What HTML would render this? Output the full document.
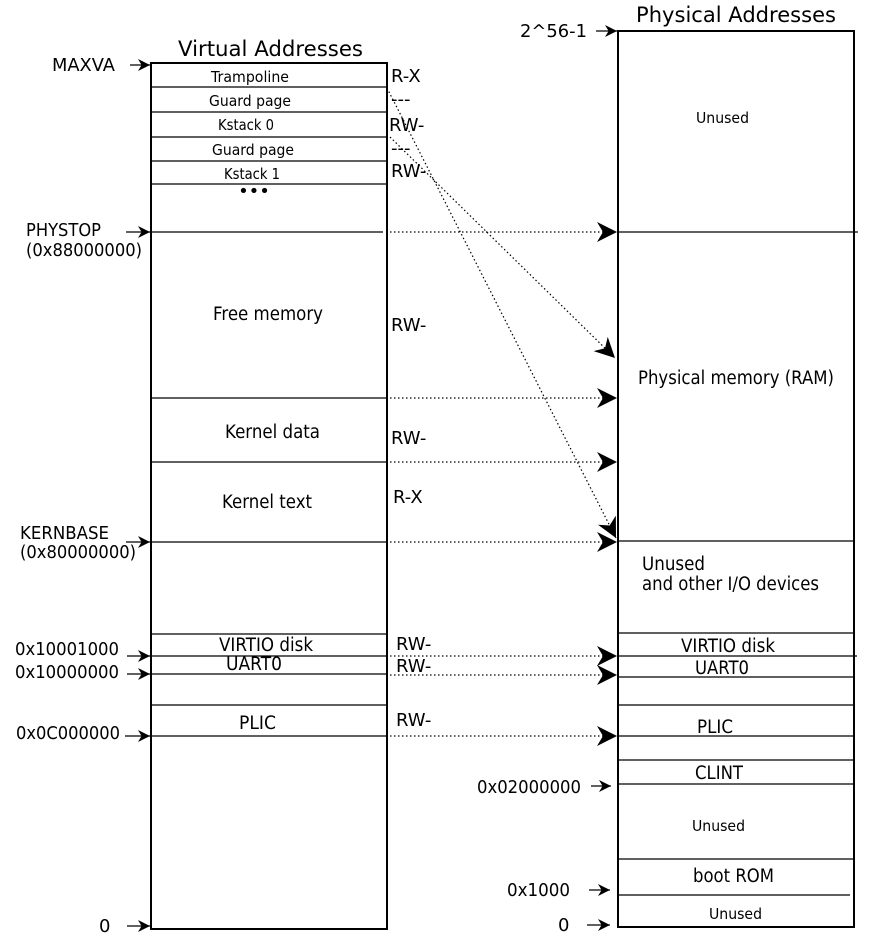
<!DOCTYPE html>
<html><head><meta charset="utf-8"><style>
html,body{margin:0;padding:0;background:#fff;width:881px;height:939px;overflow:hidden}
text{font-family:"DejaVu Sans","Liberation Sans",sans-serif;fill:#000}
.s{font-size:15.5px}.m{font-size:18px}.l{font-size:18.5px}.t{font-size:21px}
</style></head><body>
<svg width="881" height="939" viewBox="0 0 881 939" xmlns="http://www.w3.org/2000/svg">
<defs>
<marker id="a" viewBox="0 0 10 10" refX="10" refY="5" markerWidth="12" markerHeight="12" markerUnits="userSpaceOnUse" orient="auto"><path d="M0,0 L10,5 L0,10 L3,5z" fill="#000"/></marker>
<marker id="b" viewBox="0 0 10 10" refX="10" refY="5" markerWidth="20" markerHeight="20" markerUnits="userSpaceOnUse" orient="auto"><path d="M0,0 L10,5 L0,10 L3,5z" fill="#000"/></marker>
</defs>
<g stroke="#000" fill="none">
<rect x="151" y="63" width="236" height="866" stroke-width="2"/>
<rect x="618" y="31" width="236" height="896" stroke-width="2"/>
<g stroke-width="1.3">
<line x1="151" y1="87" x2="387" y2="87"/><line x1="151" y1="112" x2="387" y2="112"/>
<line x1="151" y1="137" x2="387" y2="137"/><line x1="151" y1="161" x2="387" y2="161"/>
<line x1="151" y1="184" x2="387" y2="184"/><line x1="151" y1="232" x2="383" y2="232"/>
<line x1="151" y1="398" x2="387" y2="398"/><line x1="151" y1="462" x2="387" y2="462"/>
<line x1="151" y1="542" x2="387" y2="542"/><line x1="151" y1="634" x2="387" y2="634"/>
<line x1="151" y1="656" x2="387" y2="656"/><line x1="151" y1="674" x2="387" y2="674"/>
<line x1="151" y1="705" x2="387" y2="705"/><line x1="151" y1="736" x2="387" y2="736"/>
<line x1="618" y1="232" x2="858" y2="232"/><line x1="618" y1="541" x2="854" y2="541"/>
<line x1="618" y1="633" x2="854" y2="633"/><line x1="618" y1="656" x2="857" y2="656"/>
<line x1="618" y1="677" x2="854" y2="677"/><line x1="618" y1="705" x2="854" y2="705"/>
<line x1="618" y1="736" x2="854" y2="736"/><line x1="618" y1="760" x2="854" y2="760"/>
<line x1="618" y1="784" x2="854" y2="784"/><line x1="618" y1="859" x2="854" y2="859"/>
<line x1="618" y1="895" x2="850" y2="895"/>
</g>
<g stroke-width="1.2">
<line x1="130" y1="65" x2="150" y2="65" marker-end="url(#a)"/>
<line x1="126" y1="232" x2="150" y2="232" marker-end="url(#a)"/>
<line x1="126" y1="542" x2="150" y2="542" marker-end="url(#a)"/>
<line x1="127" y1="656" x2="150" y2="656" marker-end="url(#a)"/>
<line x1="127" y1="674" x2="150" y2="674" marker-end="url(#a)"/>
<line x1="125" y1="736" x2="150" y2="736" marker-end="url(#a)"/>
<line x1="127" y1="926" x2="150" y2="926" marker-end="url(#a)"/>
<line x1="596" y1="31" x2="617" y2="31" marker-end="url(#a)"/>
<line x1="591" y1="786" x2="611" y2="786" marker-end="url(#a)"/>
<line x1="589" y1="890" x2="610" y2="890" marker-end="url(#a)"/>
<line x1="587" y1="925" x2="610" y2="925" marker-end="url(#a)"/>
</g>
<g stroke-width="1.2" stroke-dasharray="1.5 2.5">
<line x1="390" y1="232" x2="617" y2="232" marker-end="url(#b)"/>
<line x1="390" y1="398" x2="617" y2="398" marker-end="url(#b)"/>
<line x1="390" y1="462" x2="617" y2="462" marker-end="url(#b)"/>
<line x1="390" y1="542" x2="617" y2="542" marker-end="url(#b)"/>
<line x1="390" y1="656" x2="617" y2="656" marker-end="url(#b)"/>
<line x1="390" y1="675" x2="617" y2="675" marker-end="url(#b)"/>
<line x1="390" y1="736" x2="617" y2="736" marker-end="url(#b)"/>
<line x1="387" y1="88" x2="616" y2="538" marker-end="url(#b)"/>
<line x1="390" y1="137" x2="615" y2="358" marker-end="url(#b)"/>
</g>
</g>
<text class="t" x="178" y="56" textLength="185" lengthAdjust="spacingAndGlyphs">Virtual Addresses</text>
<text class="t" x="636" y="22" textLength="200" lengthAdjust="spacingAndGlyphs">Physical Addresses</text>
<text class="s" x="211" y="82" textLength="78" lengthAdjust="spacingAndGlyphs">Trampoline</text>
<text class="s" x="209" y="106" textLength="82" lengthAdjust="spacingAndGlyphs">Guard page</text>
<text class="s" x="218" y="130" textLength="56" lengthAdjust="spacingAndGlyphs">Kstack 0</text>
<text class="s" x="212" y="155" textLength="82" lengthAdjust="spacingAndGlyphs">Guard page</text>
<text class="s" x="224" y="179" textLength="56" lengthAdjust="spacingAndGlyphs">Kstack 1</text>
<text class="s" x="696" y="123" textLength="53" lengthAdjust="spacingAndGlyphs">Unused</text>
<text class="s" x="692" y="831" textLength="53" lengthAdjust="spacingAndGlyphs">Unused</text>
<text class="s" x="709" y="919" textLength="53" lengthAdjust="spacingAndGlyphs">Unused</text>
<text x="254" y="197" style="font-size:18px" text-anchor="middle">•••</text>
<text class="m" x="52" y="71" textLength="63" lengthAdjust="spacingAndGlyphs">MAXVA</text>
<text class="m" x="26" y="236" textLength="75" lengthAdjust="spacingAndGlyphs">PHYSTOP</text>
<text class="m" x="26" y="256" textLength="116" lengthAdjust="spacingAndGlyphs">(0x88000000)</text>
<text class="m" x="20" y="539" textLength="89" lengthAdjust="spacingAndGlyphs">KERNBASE</text>
<text class="m" x="20" y="558" textLength="116" lengthAdjust="spacingAndGlyphs">(0x80000000)</text>
<text class="m" x="15" y="655" textLength="104" lengthAdjust="spacingAndGlyphs">0x10001000</text>
<text class="m" x="15" y="678" textLength="104" lengthAdjust="spacingAndGlyphs">0x10000000</text>
<text class="m" x="16" y="739" textLength="104" lengthAdjust="spacingAndGlyphs">0x0C000000</text>
<text class="m" x="99" y="932">0</text>
<text class="m" x="520" y="37" textLength="67" lengthAdjust="spacingAndGlyphs">2^56-1</text>
<text class="m" x="477" y="793" textLength="104" lengthAdjust="spacingAndGlyphs">0x02000000</text>
<text class="m" x="507" y="896" textLength="63" lengthAdjust="spacingAndGlyphs">0x1000</text>
<text class="m" x="558" y="931">0</text>
<text class="m" x="391" y="82">R-X</text><text class="m" x="391" y="105">---</text>
<text class="m" x="389" y="131">RW-</text><text class="m" x="391" y="154">---</text>
<text class="m" x="391" y="177">RW-</text>
<text class="m" x="391" y="331">RW-</text><text class="m" x="391" y="444">RW-</text><text class="m" x="393" y="503">R-X</text>
<text class="m" x="396" y="650">RW-</text><text class="m" x="396" y="672">RW-</text><text class="m" x="396" y="726">RW-</text>
<text class="l" x="213" y="320" textLength="110" lengthAdjust="spacingAndGlyphs">Free memory</text>
<text class="l" x="225" y="438" textLength="95" lengthAdjust="spacingAndGlyphs">Kernel data</text>
<text class="l" x="222" y="508" textLength="90" lengthAdjust="spacingAndGlyphs">Kernel text</text>
<text class="l" x="638" y="384" textLength="196" lengthAdjust="spacingAndGlyphs">Physical memory (RAM)</text>
<text class="l" x="642" y="570" textLength="63" lengthAdjust="spacingAndGlyphs">Unused</text>
<text class="l" x="642" y="590" textLength="177" lengthAdjust="spacingAndGlyphs">and other I/O devices</text>
<text class="l" x="219" y="651" textLength="94" lengthAdjust="spacingAndGlyphs">VIRTIO disk</text>
<text class="l" x="226" y="670" textLength="56" lengthAdjust="spacingAndGlyphs">UART0</text>
<text class="l" x="239" y="729" textLength="37" lengthAdjust="spacingAndGlyphs">PLIC</text>
<text class="l" x="681" y="652" textLength="94" lengthAdjust="spacingAndGlyphs">VIRTIO disk</text>
<text class="l" x="695" y="674" textLength="54" lengthAdjust="spacingAndGlyphs">UART0</text>
<text class="l" x="697" y="733" textLength="36" lengthAdjust="spacingAndGlyphs">PLIC</text>
<text class="l" x="695" y="779" textLength="48" lengthAdjust="spacingAndGlyphs">CLINT</text>
<text class="l" x="693" y="882" textLength="81" lengthAdjust="spacingAndGlyphs">boot ROM</text>
</svg>
</body></html>
